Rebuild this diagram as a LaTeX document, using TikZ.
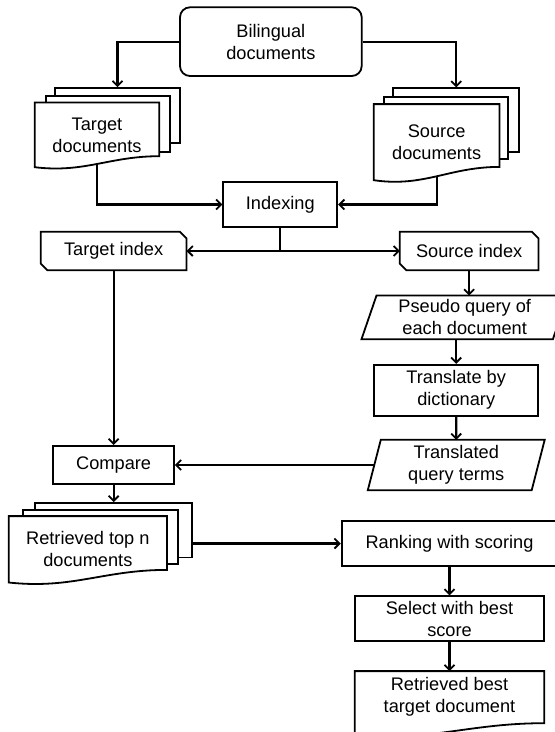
\documentclass[tikz,border=0pt]{standalone}
\usepackage{fontspec}
\setmainfont{Liberation Sans}
\usetikzlibrary{calc,arrows.meta}
\newcommand{\mainfs}{\fontsize{18.2}{22}\selectfont}
% #1 node name, #2 wave depth
\newcommand{\docoutline}[2]{%
  \filldraw[shapeline,fill=white] (#1.north west) -- (#1.north east) -- ($(#1.south east)+(0,-#2)$)
    .. controls ($(#1.south west)!0.6!(#1.south east)+(0,-#2)$) and ($(#1.south west)!0.4!(#1.south east)+(0,0.55*#2)$)
    .. (#1.south west) -- cycle;}
% #1 node name, #2 half slant
\newcommand{\paraoutline}[2]{%
  \draw[shapeline] ($(#1.south west)+(-#2,0)$) -- ($(#1.north west)+(#2,0)$) -- ($(#1.north east)+(#2,0)$) -- ($(#1.south east)+(-#2,0)$) -- cycle;}
% #1 node name, #2 chamfer
\newcommand{\chamoutline}[2]{%
  \draw[shapeline] (#1.north west) -- ($(#1.north east)+(-#2,0)$) -- ($(#1.north east)+(0,#2)$) -- (#1.south east) -- ($(#1.south west)+(#2,0)$) -- ($(#1.south west)+(0,-#2)$) -- cycle;}
\begin{document}
\begin{tikzpicture}[x=1pt,y=-1pt,
  shapeline/.style={draw,line width=1.8pt,line join=miter},
  box/.style={draw,line width=1.8pt,rectangle,inner sep=0pt,align=center,font=\mainfs},
  ghost/.style={rectangle,inner sep=0pt,align=center,font=\mainfs},
  stackbox/.style={draw,fill=white,line width=1.8pt,rectangle,inner sep=0pt},
  txt/.style={inner sep=0pt,align=center,font=\mainfs},
  arr/.style={draw,line width=2.3pt,-{Straight Barb[length=5pt,width=10pt,line width=1.8pt]}}]
\clip (0,0) rectangle (555,732);
\fill[white] (0,0) rectangle (555,732);

% top
\node[box,minimum width=181.7pt,minimum height=68.7pt,rounded corners=10pt] (bil) at (270.85,41.65) {Bilingual\\documents};

% target documents stack
\node[stackbox,minimum width=125pt,minimum height=55pt] (tdb) at (117.5,115.5) {};
\node[stackbox,minimum width=124.3pt,minimum height=56.3pt] (tdm) at (107.85,123.85) {};
\node[ghost,minimum width=124pt,minimum height=64.3pt] (tdoc) at (97,134.85) {};
\docoutline{tdoc}{11}
\node[txt] (tdoctxt) at (tdoc.center) {Target\\documents};

% source documents stack
\node[stackbox,minimum width=126pt,minimum height=63.4pt] (sdb) at (456.3,120) {};
\node[stackbox,minimum width=124.3pt,minimum height=62.6pt] (sdm) at (446.15,128) {};
\node[ghost,minimum width=125.3pt,minimum height=75.7pt] (sdoc) at (436.65,142.15) {};
\docoutline{sdoc}{13.3}
\node[txt] (sdoctxt) at (sdoc.center) {Source\\documents};

% indexing
\node[box,minimum width=114pt,minimum height=44.4pt] (idx) at (280.3,204.5) {Indexing};

% indexes
\node[ghost,minimum width=145.3pt,minimum height=38pt] (tix) at (113.65,251) {Target index};
\chamoutline{tix}{6.5}
\node[ghost,minimum width=138.3pt,minimum height=38pt] (six) at (469.15,251) {Source index};
\chamoutline{six}{6.5}

% right column
\node[ghost,minimum width=191pt,minimum height=43.3pt] (pq) at (464.7,317.35) {Pseudo query of\\each document};
\paraoutline{pq}{7.5}
\node[box,minimum width=164.3pt,minimum height=51pt] (tr) at (456.2,390.2) {Translate by\\dictionary};
\node[ghost,minimum width=163.5pt,minimum height=50pt] (tq) at (456.25,465) {Translated\\query terms};
\paraoutline{tq}{6.5}

% compare
\node[box,minimum width=120.7pt,minimum height=38.3pt] (cmp) at (113.65,465) {Compare};

% retrieved stack
\node[stackbox,minimum width=157.3pt,minimum height=54.5pt] (rdb) at (113.65,530.25) {};
\node[stackbox,minimum width=155.6pt,minimum height=54.3pt] (rdm) at (100.5,536.85) {};
\node[ghost,minimum width=157.7pt,minimum height=66pt] (rdoc) at (87.85,549.3) {};
\docoutline{rdoc}{12.6}
\node[txt] (rdoctxt) at (rdoc.center) {Retrieved top n\\documents};

% bottom right
\node[box,minimum width=215.7pt,minimum height=44.4pt] (rank) at (449.5,543.5) {Ranking with scoring};
\node[box,minimum width=189pt,minimum height=44.4pt] (sel) at (449.5,618.5) {Select with best\\score};
\node[ghost,minimum width=189pt,minimum height=63.7pt] (rbest) at (449.5,703.15) {};
\docoutline{rbest}{12}
\node[txt] (rbesttxt) at (449.5,697) {Retrieved best\\target document};

% connectors
\draw[arr] (bil.west) -| (tdb.north);
\draw[arr] (bil.east) -| (sdb.north);
\draw[arr] ($(tdoc.south)+(0,-3.3)$) |- (idx.west);
\draw[arr] ($(sdoc.south)+(0,-3.9)$) |- (idx.east);
\draw[arr] (idx.south) |- (tix.east);
\draw[arr] (idx.south) |- (six.west);
\draw[arr] (tix.south) -- (cmp.north);
\draw[arr] (six.south) -- (six.south |- pq.north);
\draw[arr] (tr.north |- pq.south) -- (tr.north);
\draw[arr] (tr.south) -- (tq.north);
\draw[arr] (tq.west) -- (cmp.east);
\draw[arr] (cmp.south) -- (rdb.north);
\draw[arr] (rdb.east |- rank.west) -- (rank.west);
\draw[arr] (rank.south) -- (sel.north);
\draw[arr] (sel.south) -- (rbest.north);
\end{tikzpicture}
\end{document}
